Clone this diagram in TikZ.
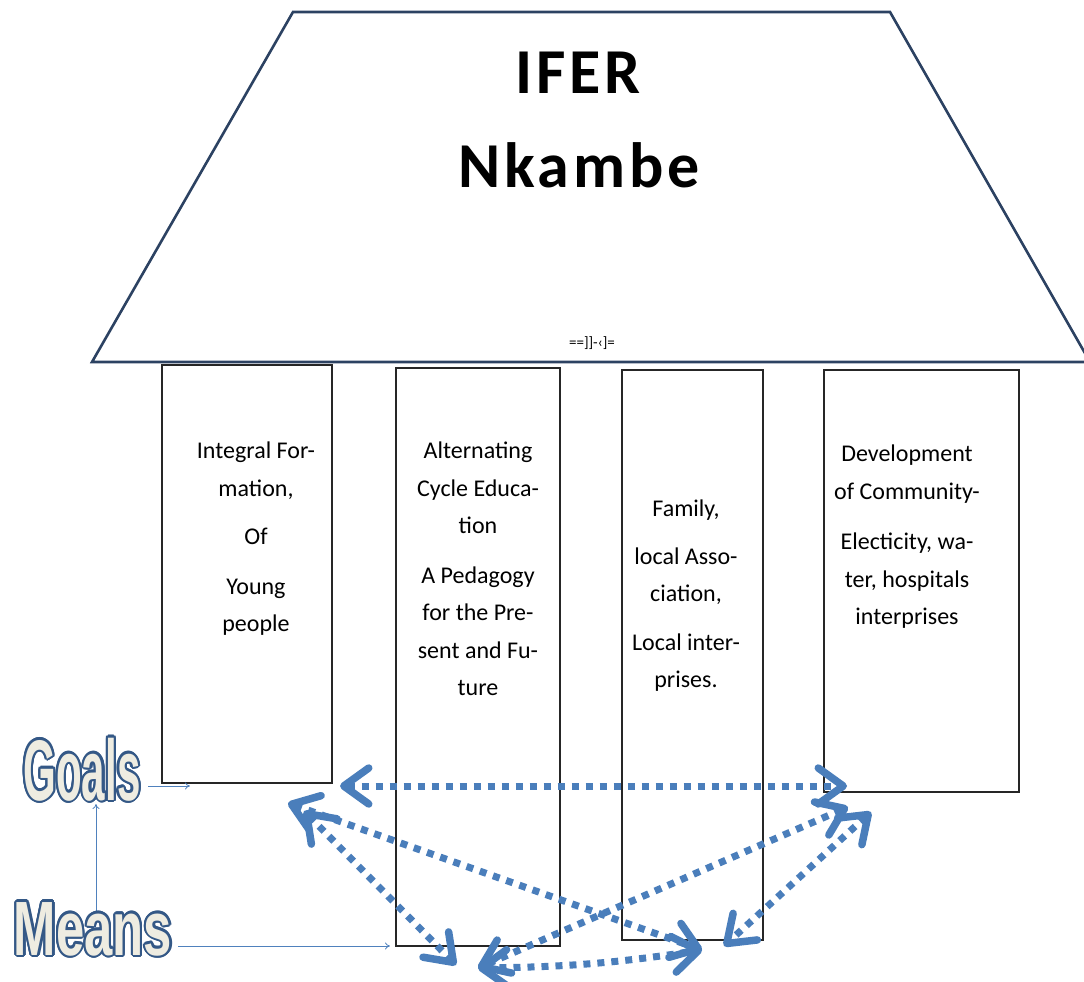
\documentclass[tikz,border=0pt]{standalone}
\usepackage{fontspec}
\usepackage{graphicx}
\setmainfont{Carlito}
\newfontfamily\titlefont[LetterSpace=6]{Carlito}
\newfontfamily\wordfont{Liberation Sans}
\usetikzlibrary{arrows.meta,calc}

\definecolor{roofline}{RGB}{44,66,98}
\definecolor{linkblue}{RGB}{74,126,187}
\definecolor{thinblue}{RGB}{79,129,189}
\definecolor{wordedge}{RGB}{52,88,134}
\definecolor{wordfill}{RGB}{238,236,225}

\tikzset{
  roof/.style={draw=roofline, line width=2.6pt, line join=miter},
  pillar/.style={draw=black!85, line width=1.2pt},
  pillartext/.style={anchor=north, align=center, inner sep=0pt, font=\fontsize{24}{37.5}\selectfont},
  titletext/.style={anchor=base, inner sep=0pt, font=\titlefont\bfseries\fontsize{64}{70}\selectfont},
  wordtext/.style={anchor=base, inner sep=0pt, font=\wordfont\bfseries},
  link/.style={draw=linkblue, line width=7pt, dash pattern=on 7pt off 7pt,
    >={Straight Barb[length=25pt,width=36pt,line width=7.5pt,round]}, <->},
  thinlink/.style={draw=thinblue, line width=0.8pt, >={To[length=5pt,width=7pt]}, ->},
}

\begin{document}
\begin{tikzpicture}[x=1pt, y=-1pt]
	\useasboundingbox (0,0) rectangle (1084,982);

	% roof
	\draw[roof] (293,12) -- (890,12) -- (1090,362) -- (92,362) -- cycle;
	\node[titletext] (ifer) at (578,93) {IFER};
	\node[titletext] (nkambe) at (579,187) {Nkambe};
	\node[anchor=base, inner sep=0pt, font=\fontsize{15}{16}\selectfont] (mark) at (592,347) {==]]-‹]=};

	% pillars
	\draw[pillar] (162,365) rectangle (332,783);
	\draw[pillar] (396,368) rectangle (560,946);
	\draw[pillar] (622,370) rectangle (763,940);
	\draw[pillar] (824,370) rectangle (1019,792);

	\node[pillartext] (formation) at (256,442) {Integral For-\\ mation,\\[11pt] Of\\[12pt] Young\\ people};
	\node[pillartext] (alternating) at (478,442) {Alternating\\ Cycle Educa-\\ tion\\[12pt] A Pedagogy\\ for the Pre-\\ sent and Fu-\\ ture};
	\node[pillartext] (family) at (686,500) {Family,\\[10pt] local Asso-\\ ciation,\\[11pt] Local inter-\\ prises.};
	\node[pillartext] (community) at (907,445) {Development\\ of Community-\\[13pt] Electicity, wa-\\ ter, hospitals\\ interprises};

	% goals and means
	\coordinate (goalsin) at (190,786);
	\coordinate (meansin) at (390,946);
	\coordinate (meansup) at (96,912);
	\coordinate (goalsdown) at (96,804);
	\draw[thinlink] (meansup) -- (goalsdown);
	\draw[thinlink] (148,786) -- (goalsin);
	\draw[thinlink] (178,946) -- (meansin);

	\foreach \a in {0,20,...,340} {
		\node[wordtext, text=wordedge, font=\wordfont\bfseries\fontsize{86}{90}\selectfont] at ($(82,800)+(\a:2.2)$) {\scalebox{0.49}[1]{Goals}};
		\node[wordtext, text=wordedge, font=\wordfont\bfseries\fontsize{77}{80}\selectfont] at ($(93,955)+(\a:2.2)$) {\scalebox{0.66}[1]{Means}};
	}
	\node[wordtext, text=wordfill, font=\wordfont\bfseries\fontsize{86}{90}\selectfont] (goals) at (82,800) {\scalebox{0.49}[1]{Goals}};
	\node[wordtext, text=wordfill, font=\wordfont\bfseries\fontsize{77}{80}\selectfont] (means) at (93,955) {\scalebox{0.66}[1]{Means}};

	% links between the pillars
	\coordinate (hl) at (340,786);
	\coordinate (hr) at (847,786);
	\coordinate (dl) at (288,803);
	\coordinate (dr) at (702,950);
	\coordinate (sl) at (304,811);
	\coordinate (sb) at (456,965);
	\coordinate (ur) at (848,807);
	\coordinate (ub) at (478,968);
	\coordinate (sr) at (871,812);
	\coordinate (rb) at (724,946);
	\draw[link] (hl) -- (hr);
	\draw[link] (dl) -- (dr);
	\draw[link] (sl) -- (sb);
	\draw[link] (ur) -- (ub);
	\draw[link] (sr) -- (rb);
	\draw[link] (ub) to[bend right=4] (dr);
\end{tikzpicture}
\end{document}
